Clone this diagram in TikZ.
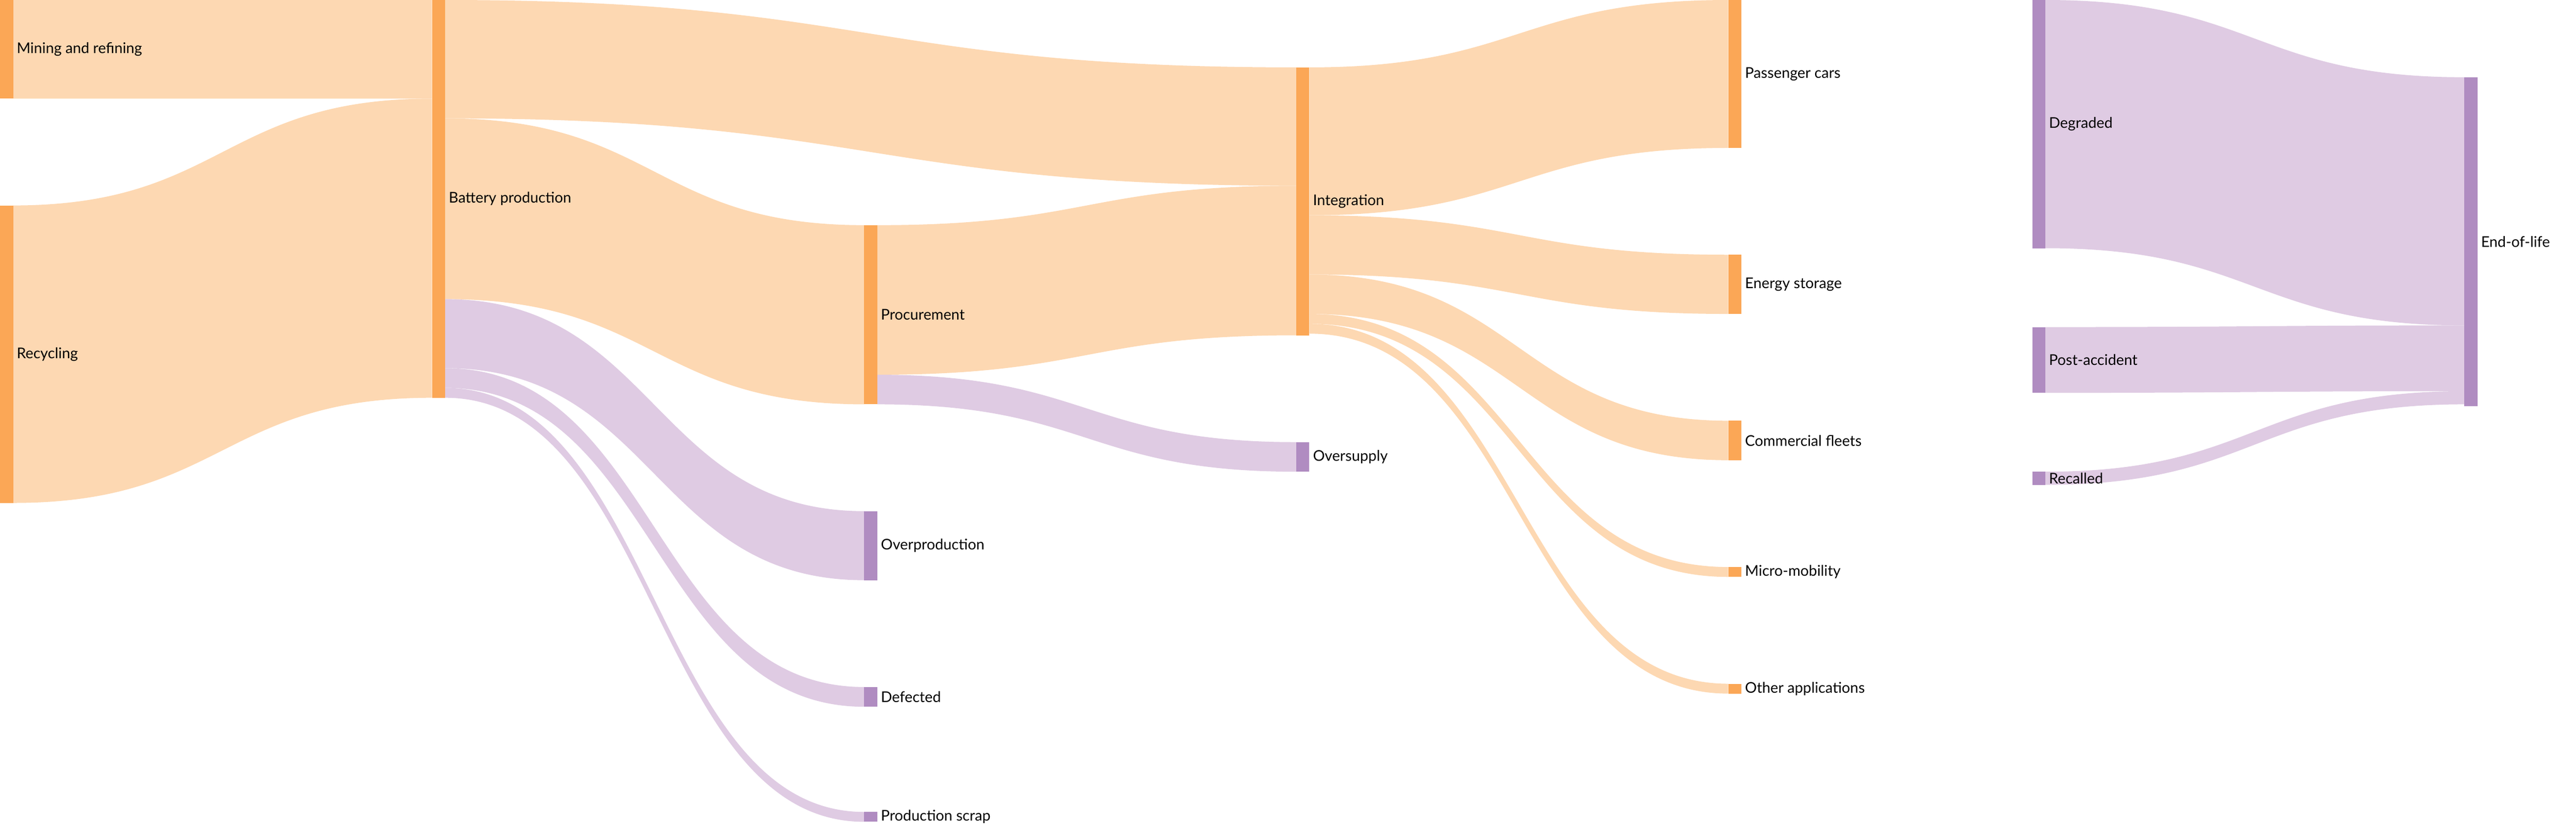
\documentclass[tikz,border=0pt]{standalone}
\usepackage{fontspec}
\setmainfont{Lato}
\definecolor{ob}{HTML}{FBA756}
\definecolor{of}{HTML}{FDD8B2}
\definecolor{pb}{HTML}{B08CC1}
\definecolor{pf}{HTML}{DFCBE3}
\newcommand{\flw}[7]{\fill[#7] (#1,#2) .. controls ({(#1+#4)/2},#2) and ({(#1+#4)/2},#5) .. (#4,#5) -- (#4,#6) .. controls ({(#1+#4)/2},#6) and ({(#1+#4)/2},#3) .. (#1,#3) -- cycle;}
\newcommand{\sbar}[6]{\fill[#6] (#1,#2) rectangle (#1+8,#3); \node[lbl] (#4) at (#1+10,{(#2+#3)/2}) {#5};}
\begin{document}
\begin{tikzpicture}[x=1pt,y=-1pt,lbl/.style={anchor=west,font=\fontsize{9}{10}\selectfont,inner sep=0pt}]
\useasboundingbox (0,0) rectangle (1568,508);
% flows
\flw{8}{0}{60}{263}{0}{60}{of}
\flw{8}{125}{306}{263}{60}{242}{of}
\flw{271}{0}{72}{789}{41}{113}{of}
\flw{271}{72}{182}{526}{137}{246}{of}
\flw{271}{182}{224}{526}{311}{353}{pf}
\flw{271}{224}{236}{526}{418}{430}{pf}
\flw{271}{236}{242}{526}{494}{500}{pf}
\flw{534}{137}{228}{789}{113}{204}{of}
\flw{534}{228}{246}{789}{269}{287}{pf}
\flw{797}{41}{131}{1052}{0}{90}{of}
\flw{797}{131}{167}{1052}{155}{191}{of}
\flw{797}{167}{191}{1052}{256}{280}{of}
\flw{797}{191}{197}{1052}{345}{351}{of}
\flw{797}{197}{203}{1052}{416}{422}{of}
\flw{1245}{0}{151}{1500}{47}{198}{pf}
\flw{1245}{199}{239}{1500}{198}{238}{pf}
\flw{1245}{287}{295}{1500}{238}{246}{pf}
% bars
\sbar{0}{0}{60}{mine}{Mining and refining}{ob}
\sbar{0}{125}{306}{rec}{Recycling}{ob}
\sbar{263}{0}{242}{bat}{Battery production}{ob}
\sbar{526}{137}{246}{proc}{Procurement}{ob}
\sbar{526}{311}{353}{overp}{Overproduction}{pb}
\sbar{526}{418}{430}{def}{Defected}{pb}
\sbar{526}{494}{500}{scrap}{Production scrap}{pb}
\sbar{789}{41}{204}{integ}{Integration}{ob}
\sbar{789}{269}{287}{overs}{Oversupply}{pb}
\sbar{1052}{0}{90}{pass}{Passenger cars}{ob}
\sbar{1052}{155}{191}{energy}{Energy storage}{ob}
\sbar{1052}{256}{280}{comm}{Commercial fleets}{ob}
\sbar{1052}{345}{351}{micro}{Micro-mobility}{ob}
\sbar{1052}{416}{422}{other}{Other applications}{ob}
\sbar{1237}{0}{151}{degr}{Degraded}{pb}
\sbar{1237}{199}{239}{post}{Post-accident}{pb}
\sbar{1237}{287}{295}{recall}{Recalled}{pb}
\sbar{1500}{47}{247}{eol}{End-of-life}{pb}
\end{tikzpicture}
\end{document}
